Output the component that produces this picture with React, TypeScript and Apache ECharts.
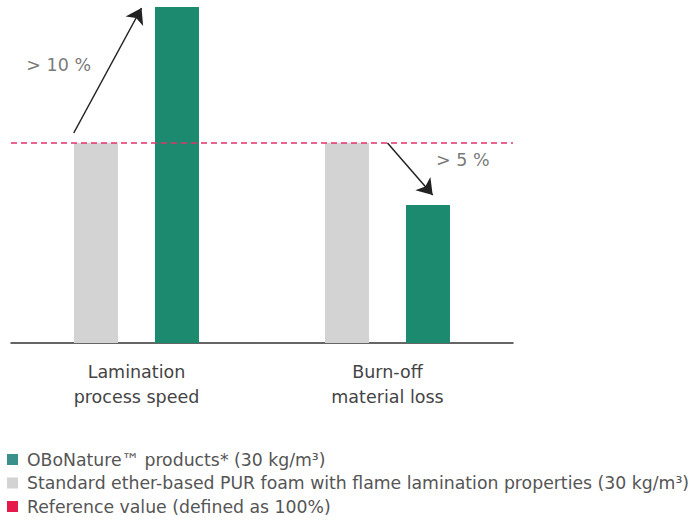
import React, { useEffect, useRef } from "react";
import * as echarts from "echarts";

const categories = ["Lamination\nprocess speed", "Burn-off\nmaterial loss"];
const standardValues = [100, 100];
const oboValues = [168, 69];
const referenceValue = 100;
const seriesNames = [
  "OBoNature\u2122 products* (30 kg/m\u00B3)",
  "Standard ether-based PUR foam with flame lamination properties (30 kg/m\u00B3)",
  "Reference value (defined as 100%)",
];
const arrowStarts = [[-0.25, 105], [1.0, 100]];
const arrowEnds = [[0.02, 167.5], [1.18, 74]];
const arrowLabels = ["> 10 %", "> 5 %"];
const labelPositions = [[-0.31, 139], [1.3, 91.5]];

const GREEN = "#1b8a6f";
const GRAY = "#d3d3d3";
const RED = "#e5194a";
const FONT = "DejaVu Sans, Liberation Sans, Arial, sans-serif";

export default function App() {
  const ref = useRef<HTMLDivElement>(null);
  useEffect(() => {
    if (!ref.current) return;
    const chart = echarts.init(ref.current, null, { renderer: "svg" });
    chart.setOption({
      animation: false,
      textStyle: { fontFamily: FONT },
      grid: { left: 11, width: 502, top: 3, bottom: 184, containLabel: false },
      legend: {
        orient: "vertical",
        left: 7,
        top: 451,
        bottom: 0,
        icon: "rect",
        itemWidth: 11,
        itemHeight: 11,
        itemGap: 6.5,
        padding: 0,
        selectedMode: false,
        textStyle: { fontSize: 17.3, lineHeight: 17, color: "#555", fontFamily: FONT, padding: [0, 0, 0, 4] },
        data: [
          { name: seriesNames[0], itemStyle: { color: "#3a918c" } },
          { name: seriesNames[1], itemStyle: { color: GRAY } },
          { name: seriesNames[2], itemStyle: { color: RED } },
        ],
      },
      xAxis: [
        {
          type: "category",
          data: categories,
          axisTick: { show: false },
          axisLine: { lineStyle: { color: "#333", width: 1.5 } },
          axisLabel: {
            fontSize: 17.5,
            lineHeight: 25,
            margin: 16,
            color: "#444",
            fontFamily: FONT,
          },
        },
        { type: "value", min: -0.5, max: 1.5, show: false },
      ],
      yAxis: { type: "value", min: 0, max: 170, show: false, splitLine: { show: false } },
      series: [
        {
          name: seriesNames[1],
          type: "bar",
          data: standardValues,
          barWidth: 44,
          barGap: "84%",
          itemStyle: { color: GRAY },
        },
        {
          name: seriesNames[0],
          type: "bar",
          data: oboValues,
          barWidth: 44,
          barGap: "84%",
          itemStyle: { color: GREEN },
        },
        {
          name: seriesNames[2],
          type: "line",
          data: [],
          itemStyle: { color: RED },
          markLine: {
            symbol: "none",
            silent: true,
            label: { show: false },
            lineStyle: { type: [6, 4], color: "#e2336b", width: 1.5 },
            data: [{ yAxis: referenceValue }],
          },
        },
        {
          type: "lines",
          coordinateSystem: "cartesian2d",
          xAxisIndex: 1,
          yAxisIndex: 0,
          symbol: ["none", "arrow"],
          symbolSize: 15,
          lineStyle: { color: "#222", width: 1.5, curveness: 0, opacity: 1 },
          data: arrowStarts.map((s, i) => ({ coords: [s, arrowEnds[i]] })),
        },
        {
          type: "scatter",
          xAxisIndex: 1,
          yAxisIndex: 0,
          symbolSize: 1,
          itemStyle: { color: "transparent" },
          label: {
            show: true,
            position: "inside",
            formatter: (p: any) => p.name,
            fontSize: 17.5,
            color: "#555",
            fontFamily: FONT,
          },
          data: labelPositions.map((p, i) => ({ name: arrowLabels[i], value: p })),
        },
      ],
    });
    return () => chart.dispose();
  }, []);
  return <div ref={ref} style={{ width: 697, height: 527, position: "absolute", left: 0, top: 0 }} />;
}
